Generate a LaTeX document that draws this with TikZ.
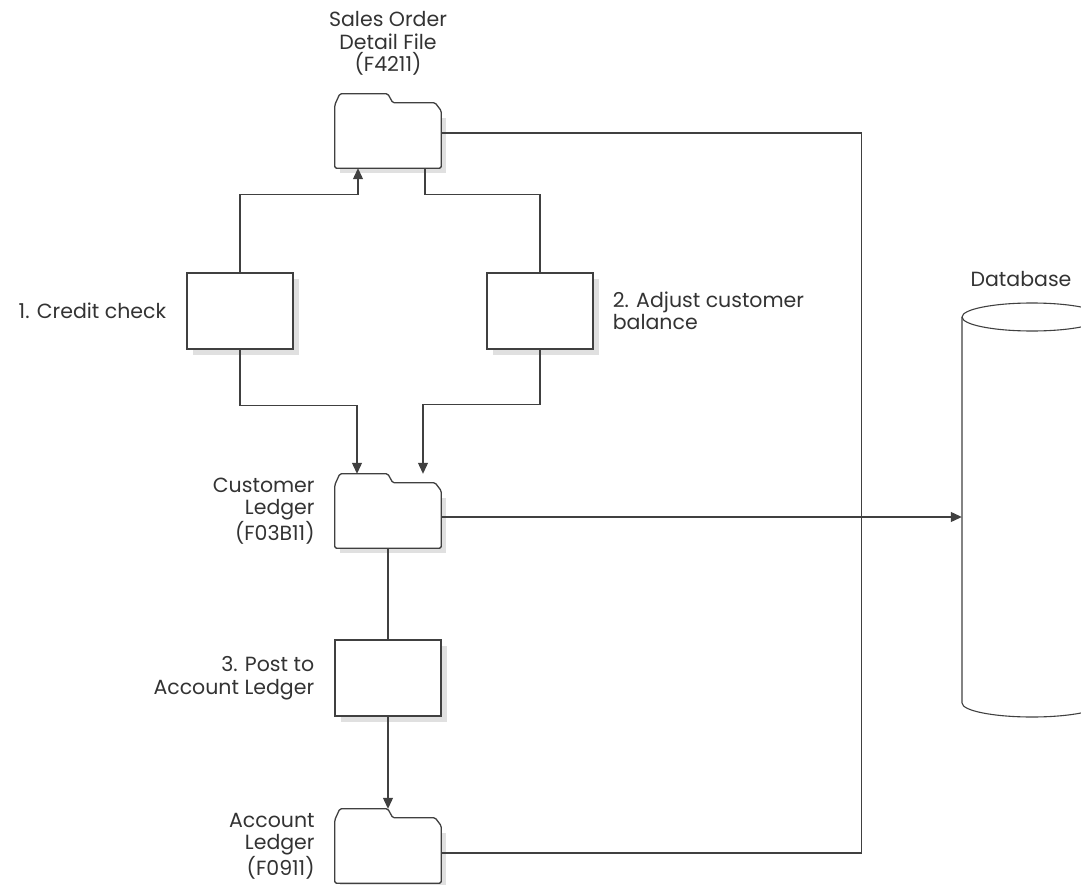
\documentclass[tikz,border=0pt]{standalone}
\usepackage{fontspec}
\setmainfont{Poppins}
\usetikzlibrary{arrows.meta,positioning,calc,shadows}

\tikzset{
  wire/.style={draw=black!75, line width=1.1pt},
  task/.style={draw=black!75, line width=1.3pt, fill=white, minimum width=106pt, minimum height=76pt, inner sep=0pt,
    drop shadow={shadow xshift=6pt, shadow yshift=-6pt, fill=black!12, opacity=1}},
  fldr/.style={minimum width=106pt, minimum height=74pt, inner sep=0pt},
  fshadow/.style={fill=black!12},
  lbl/.style={font=\fontsize{20.5}{22.5}\selectfont, text=black!80, inner sep=0pt},
}

% folder icon: name, position
\newcommand{\folder}[2]{%
  \node[fldr] (#1) at (#2) {};
  \fill[fshadow] ($(#1.north west)+(5,24)$) rectangle ($(#1.south east)+(5,5)$);
  \draw[wire, line width=1.3pt, fill=white, rounded corners=1.5pt] (#1.south west) -- ($(#1.north west)+(0,11)$)
    -- ($(#1.north west)+(5,0)$) -- ($(#1.north west)+(53,0)$) -- ($(#1.north west)+(58,9)$)
    -- ($(#1.north east)+(-6,9)$) -- ($(#1.north east)+(0,17)$) -- (#1.south east) -- cycle;
}

\begin{document}
\begin{tikzpicture}[x=1pt, y=-1pt, >={Triangle[length=11pt,width=10pt]}]
\useasboundingbox (0,0) rectangle (1081,885);

\folder{sof}{388,131}
\node[task] (cc) at (240,311) {};
\node[task] (acb) at (540,311) {};
\folder{clf}{388,511}
\node[task] (post) at (388,678) {};
\folder{alf}{388,846}

% database
\node[minimum width=140pt, minimum height=414pt, inner sep=0pt] (db) at (1032,510) {};
\draw[wire] (962,317) -- (962,703) arc[start angle=180, end angle=360, x radius=70pt, y radius=14pt] -- (1102,317);
\draw[wire] (1032,317) ellipse [x radius=70pt, y radius=14pt];

\node[lbl, above=18pt of sof, align=center] (sofl) {Sales Order\\Detail File\\(F4211)};
\node[lbl, left=20pt of cc] (ccl) {1. Credit check};
\node[lbl, right=19pt of acb, align=left] (acbl) {2. Adjust customer\\balance};
\node[lbl, left=20pt of clf, align=right] (clfl) {Customer\\Ledger\\(F03B11)};
\node[lbl, left=20pt of post, align=right] (postl) {3. Post to\\Account Ledger};
\node[lbl, left=20pt of alf, align=right] (alfl) {Account\\Ledger\\(F0911)};
\node[lbl] (dbl) at (1021,279) {Database};

\draw[wire,->] (cc.north) -- ++(0,-78) -| ([xshift=-30pt]sof.south);
\draw[wire] (acb.north) -- ++(0,-78) -| ([xshift=37pt]sof.south);
\draw[wire,->] (cc.south) -- ++(0,56) -| ([xshift=-31pt]clf.north);
\draw[wire,->] (acb.south) -- ++(0,55) -| ([xshift=35pt]clf.north);
\draw[wire] (clf.south) -- (post.north);
\draw[wire,->] (post.south) -- (alf.north);
\coordinate (cl) at ([yshift=-6pt]clf.east);
\draw[wire,->] (cl) -- (cl -| db.west);
\draw[wire] ([yshift=-2pt]sof.east) -- ++(420,0) |- ([yshift=-7pt]alf.east);

\end{tikzpicture}
\end{document}
